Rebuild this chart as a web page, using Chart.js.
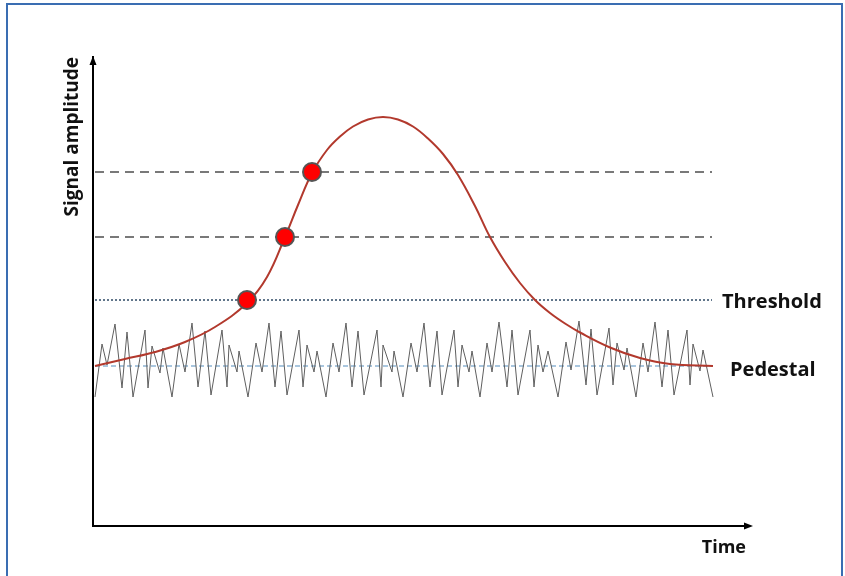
<!DOCTYPE html>
<html>
<head>
<meta charset="utf-8">
<script src="https://cdn.jsdelivr.net/npm/chart.js@4.4.1/dist/chart.umd.min.js"></script>
<style>
  html, body { margin: 0; padding: 0; background: #fff; }
  #wrap { position: relative; width: 845px; height: 576px; overflow: hidden; }
  #frame { position: absolute; left: 6px; top: 3px; width: 837px; height: 580px; border: 2px solid #3a6db2; box-sizing: border-box; }
  #chart { position: absolute; left: 0; top: 0; }
</style>
</head>
<body>
<div id="wrap">
  <div id="frame"></div>
  <canvas id="chart" width="845" height="576"></canvas>
</div>
<script>
// time axis runs 0..130.6, amplitude 0..93.8 (arbitrary units)
const lineStart = 0.4;
const lineEnd = 123.8;
const pedestal = 32;
const threshold = 45.2;
const levels = [57.8, 70.8];

// signal pulse
const pulseTime = [0.4, 6.4, 12.4, 18.4, 24.4, 30.8, 34.8, 38.4, 41, 43.8, 46.8, 49.4, 52, 55, 58, 61, 64, 67, 70, 73, 76.4, 79.4, 82.4, 85.4, 88.4, 91.4, 94.4, 97.4, 103.4, 109.4, 115.4, 124];
const pulseAmp = [32, 33.4, 34.8, 36.8, 39.8, 44.6, 49.8, 57.8, 64.2, 70.6, 75.2, 77.9, 79.9, 81.3, 81.8, 81.3, 79.9, 77.5, 74.4, 70.2, 64, 57.8, 52.8, 48.6, 45.2, 42.6, 40.5, 38.7, 35.7, 33.6, 32.4, 32];

// sampled crossings
const hitTime = [30.8, 38.4, 43.8];
const hitAmp = [45.2, 57.8, 70.8];

// baseline noise
const noiseTime = [0.4, 1.8, 2.8, 4.4, 5.8, 6.8, 8, 10.4, 11, 11.8, 13.4, 14, 15.8, 17.2, 18.4, 19.8, 21, 22.4, 23.6,
  25.8, 26.8, 27.2, 28.8, 29.2, 31, 32.6, 33.8, 35.2, 36.4, 37.6, 38.8,
  41.2, 42, 42.8, 44.2, 44.8, 46.6, 48, 49.2, 50.6, 51.8, 53, 54.2,
  56.8, 57.6, 58, 59.8, 60.2, 62, 63.6, 64.8, 66.2, 67.4, 68.8, 69.8,
  72.2, 73, 73.8, 75.2, 75.8, 77.4, 78.8, 79.8, 81.2, 82.8, 83.8, 85,
  87.4, 88.2, 89, 90, 91, 93, 94.6, 95.6, 97.2, 98.6, 99.6, 100.8,
  103.2, 104, 104.8, 106.2, 106.8, 108.6, 110, 111, 112.4, 113.8, 115, 116.2,
  118.8, 119.4, 120, 121.4, 122, 124];
const noiseAmp = [25.8, 36.4, 32.2, 40.4, 27.6, 38.8, 25.8, 39.2, 27.6, 36, 30.6, 35.6, 25.8, 36.4, 30.8, 40.6, 27.8, 39, 26.2,
  39.2, 27.8, 36.2, 30.8, 35, 25.8, 36.6, 30.8, 40.6, 27.8, 39, 26.2,
  39.2, 27.8, 36.2, 30.8, 35, 25.8, 36.6, 30.8, 40.6, 27.8, 39, 26.2,
  39.2, 27.8, 36.2, 30.8, 35, 25.8, 36.6, 30.8, 40.6, 27.8, 39, 26.2,
  39.2, 27.8, 36.2, 30.8, 35, 25.8, 36.6, 30.8, 40.8, 27.8, 39.2, 26.2,
  39.2, 27.8, 36.2, 30.8, 35, 25.8, 36.8, 31.2, 41, 28.2, 39.4, 26.2,
  39.6, 28.2, 36.6, 31.2, 35.6, 25.8, 36.6, 30.8, 40.8, 27.8, 39.2, 26.2,
  39.2, 28.2, 36.4, 31, 35.2, 25.8];

const FONT = '"Open Sans", "DejaVu Sans", sans-serif';

const toPoints = (xs, ys) => xs.map((x, i) => ({ x: x, y: ys[i] }));
const hLine = v => [{ x: lineStart, y: v }, { x: lineEnd, y: v }];

const decorations = {
  id: 'decorations',
  afterDraw(chart) {
    const { ctx, chartArea, scales } = chart;
    const x = scales.x, y = scales.y;
    ctx.save();
    // arrow heads
    ctx.fillStyle = '#000';
    ctx.beginPath();
    ctx.moveTo(chartArea.left, chartArea.top - 1);
    ctx.lineTo(chartArea.left - 3.5, chartArea.top + 8);
    ctx.lineTo(chartArea.left + 3.5, chartArea.top + 8);
    ctx.closePath();
    ctx.fill();
    ctx.beginPath();
    ctx.moveTo(chartArea.right + 7, chartArea.bottom);
    ctx.lineTo(chartArea.right - 2, chartArea.bottom - 3.5);
    ctx.lineTo(chartArea.right - 2, chartArea.bottom + 3.5);
    ctx.closePath();
    ctx.fill();
    // line labels
    ctx.font = 'bold 20px ' + FONT;
    ctx.fillStyle = '#111';
    ctx.textBaseline = 'middle';
    ctx.textAlign = 'left';
    const xe = x.getPixelForValue(lineEnd);
    ctx.fillText('Threshold', xe + 10, y.getPixelForValue(threshold) + 2);
    ctx.fillText('Pedestal', xe + 18, y.getPixelForValue(pedestal) + 4);
    ctx.restore();
  }
};

new Chart(document.getElementById('chart'), {
  type: 'scatter',
  data: {
    datasets: [
      {
        data: toPoints(hitTime, hitAmp),
        pointRadius: 9,
        pointBackgroundColor: '#ff0000',
        pointBorderColor: '#555555',
        pointBorderWidth: 2
      },
      {
        data: toPoints(pulseTime, pulseAmp),
        showLine: true,
        borderColor: '#b2392d',
        borderWidth: 2,
        pointRadius: 0,
        tension: 0.4
      },
      {
        data: toPoints(noiseTime, noiseAmp),
        showLine: true,
        borderColor: '#5f5f5f',
        borderWidth: 1,
        pointRadius: 0,
        tension: 0
      },
      ...levels.map(v => ({
        data: hLine(v),
        showLine: true,
        borderColor: '#4d4d4d',
        borderWidth: 1.5,
        borderDash: [9, 6],
        pointRadius: 0
      })),
      {
        data: hLine(threshold),
        showLine: true,
        borderColor: '#2e4a66',
        borderWidth: 1.5,
        borderDash: [2, 2],
        pointRadius: 0
      },
      {
        data: hLine(pedestal),
        showLine: true,
        borderColor: '#8db4d4',
        borderWidth: 1.5,
        borderDash: [5, 3],
        pointRadius: 0
      }
    ]
  },
  options: {
    responsive: false,
    animation: false,
    devicePixelRatio: 1,
    layout: { padding: { left: 0, top: 57, right: 99, bottom: 0 } },
    plugins: {
      legend: { display: false },
      tooltip: { enabled: false }
    },
    scales: {
      x: {
        type: 'linear',
        min: 0,
        max: 130.6,
        grid: { display: false },
        ticks: { display: false },
        border: { display: true, color: '#000', width: 2 },
        title: {
          display: true,
          text: 'Time',
          align: 'end',
          color: '#111',
          font: { family: FONT, size: 18, weight: 'bold' },
          padding: { top: 0, bottom: 17 }
        },
        afterFit(scale) { scale.height = 50; }
      },
      y: {
        type: 'linear',
        min: 0,
        max: 93.8,
        grid: { display: false },
        ticks: { display: false },
        border: { display: true, color: '#000', width: 2 },
        title: {
          display: true,
          text: 'Signal amplitude',
          align: 'end',
          color: '#111',
          font: { family: FONT, size: 19, weight: 'bold' },
          padding: { top: 61, bottom: 0 }
        },
        afterFit(scale) { scale.width = 93; }
      }
    }
  },
  plugins: [decorations]
});
</script>
</body>
</html>
